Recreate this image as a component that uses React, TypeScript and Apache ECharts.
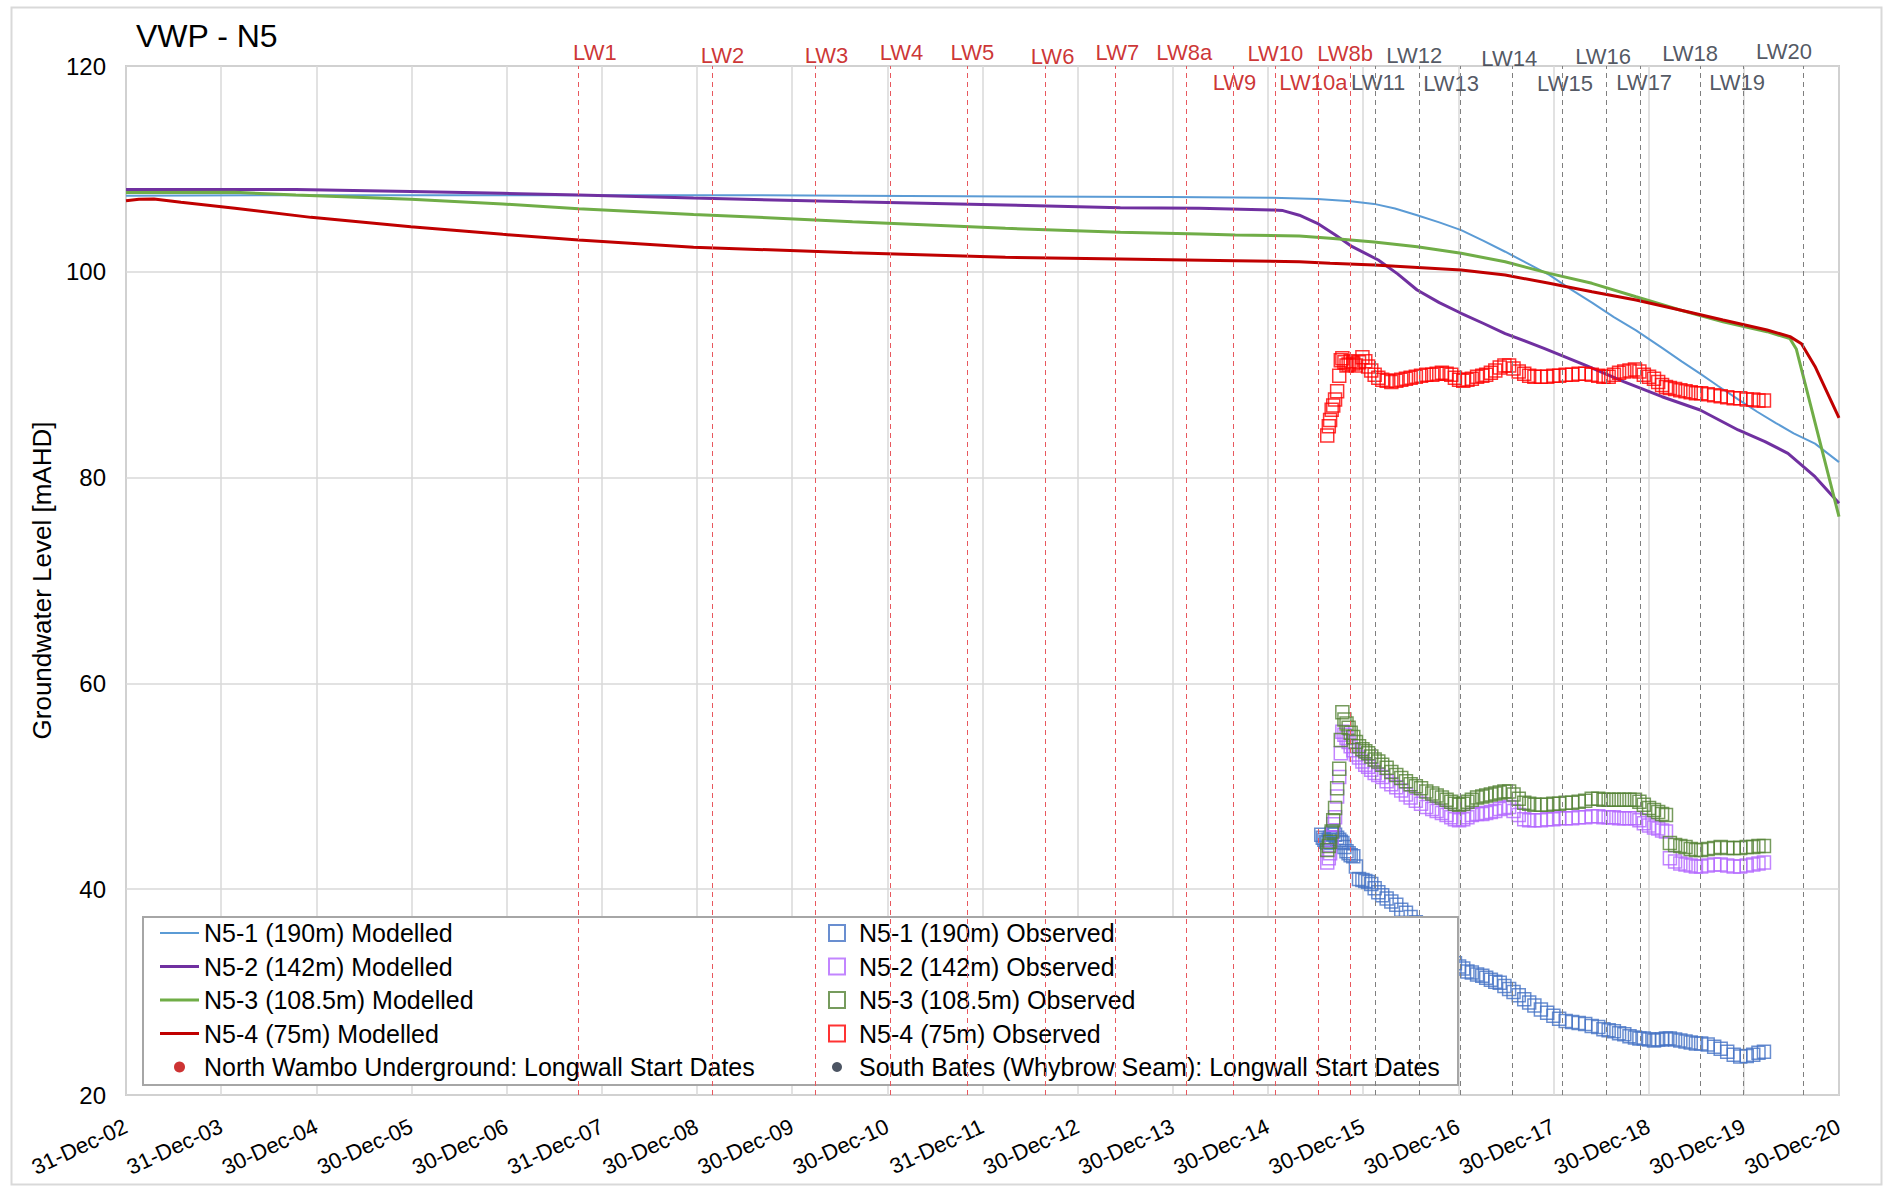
import React, { useEffect, useRef } from "react";
import * as echarts from "echarts";

// x values are days since 31-Dec-2002 (first axis tick)
const BASE_DATE = Date.UTC(2002, 11, 31);
const DAY_MS = 86400000;
const X_MIN = 0;
const X_STEP = 365.2222; // 18 equal divisions from 31-Dec-02 to 30-Dec-20
const X_MAX = 6573.9996;
const Y_MIN = 20;
const Y_MAX = 120;
const Y_STEP = 20;
const MONTHS = ["Jan", "Feb", "Mar", "Apr", "May", "Jun", "Jul", "Aug", "Sep", "Oct", "Nov", "Dec"];

const TITLE = "VWP - N5";
const Y_NAME = "Groundwater Level [mAHD]";

const seriesNames = {
  m1: "N5-1 (190m) Modelled",
  m2: "N5-2 (142m) Modelled",
  m3: "N5-3 (108.5m) Modelled",
  m4: "N5-4 (75m) Modelled",
  o1: "N5-1 (190m) Observed",
  o2: "N5-2 (142m) Observed",
  o3: "N5-3 (108.5m) Observed",
  o4: "N5-4 (75m) Observed",
  nw: "North Wambo Underground: Longwall Start Dates",
  sb: "South Bates (Whybrow Seam): Longwall Start Dates",
};

// Longwall start dates
const northWamboLW = ["LW1", "LW2", "LW3", "LW4", "LW5", "LW6", "LW7", "LW8a", "LW9", "LW10", "LW10a", "LW8b"];
const northWamboStart = ["2007-09-30", "2009-02-28", "2010-03-30", "2011-01-12", "2011-11-03", "2012-08-29", "2013-05-24", "2014-02-20", "2014-08-20", "2015-01-28", "2015-07-12", "2015-11-11"];
const northWamboLabelY = [121.3, 121.0, 121.0, 121.3, 121.3, 120.9, 121.3, 121.3, 118.4, 121.2, 118.4, 121.2];

const southBatesLW = ["LW11", "LW12", "LW13", "LW14", "LW15", "LW16", "LW17", "LW18", "LW19", "LW20"];
const southBatesStart = ["2016-02-15", "2016-08-02", "2017-01-06", "2017-07-25", "2018-02-01", "2018-07-20", "2018-11-28", "2019-07-16", "2019-12-28", "2020-08-14"];
const southBatesLabelY = [118.4, 121.0, 118.3, 120.7, 118.3, 120.9, 118.4, 121.2, 118.4, 121.4];

// horizontal nudges of the LW labels (px)
const northWamboLabelDx = [17, 10, 11, 11, 5, 7, 2, -2, 1, 0, -5, -5];
const southBatesLabelDx = [3, -5, -9, -3, 3, -3, 4, -10, -6, -19];

// Modelled heads [day, mAHD]
const modN5_1 = [[0,107.4],[700,107.45],[1500,107.45],[2200,107.45],[2800,107.4],[3400,107.32],[4000,107.28],[4400,107.2],[4572,107.07],[4700,106.85],[4790,106.6],[4870,106.15],[4955,105.5],[5040,104.8],[5124,104.05],[5210,103.0],[5293,101.95],[5380,100.8],[5462,99.7],[5545,98.3],[5626,97.0],[5710,95.6],[5795,94.3],[5895,92.6],[5970,91.3],[6041,90.1],[6110,88.9],[6187,87.6],[6260,86.4],[6332,85.3],[6400,84.3],[6482,83.3],[6574,81.5]];
const modN5_2 = [[0,108.0],[652,108.0],[1093,107.8],[1446,107.63],[1737,107.46],[2178,107.17],[2788,106.8],[3375,106.49],[3816,106.23],[4119,106.17],[4403,106.0],[4440,105.95],[4503,105.5],[4572,104.71],[4640,103.6],[4706,102.44],[4806,101.15],[4880,99.8],[4955,98.23],[5040,97.0],[5124,95.97],[5208,95.0],[5293,94.0],[5442,92.56],[5600,90.94],[5750,89.3],[5895,87.86],[6041,86.57],[6187,84.63],[6290,83.5],[6378,82.36],[6482,80.09],[6574,77.5]];
const modN5_3 = [[0,107.7],[418,107.72],[652,107.46],[1093,107.04],[1446,106.59],[1737,106.13],[2178,105.58],[2788,104.87],[3375,104.23],[3816,103.84],[4119,103.67],[4257,103.58],[4503,103.48],[4621,103.25],[4790,102.9],[4955,102.44],[5124,101.8],[5293,100.98],[5462,99.85],[5626,98.88],[5795,97.58],[5964,96.29],[6129,95.15],[6298,94.18],[6386,93.5],[6410,92.5],[6574,76.2]];
const modN5_4 = [[0,106.9],[50,107.05],[107,107.07],[211,106.75],[418,106.17],[710,105.29],[1093,104.38],[1446,103.64],[1737,103.09],[2178,102.38],[2788,101.86],[3375,101.41],[3816,101.24],[4257,101.08],[4503,100.98],[4621,100.82],[4790,100.66],[5124,100.17],[5293,99.69],[5462,98.88],[5626,98.07],[5795,97.26],[5964,96.29],[6129,95.31],[6298,94.34],[6386,93.7],[6430,93.0],[6482,90.8],[6574,85.8]];

// Observed heads [day, mAHD]
const obsN5_1 = [[4587,45.3],[4593,45.0],[4599,44.8],[4605,44.6],[4610,44.5],[4616,44.8],[4621,45.0],[4627,45.4],[4633,45.6],[4640,45.3],[4648,45.0],[4656,44.8],[4662,44.6],[4668,44.5],[4676,44.1],[4684,43.7],[4692,43.5],[4700,43.3],[4710,43.2],[4720,42.2],[4732,41.0],[4745,40.9],[4756,40.8],[4767,40.7],[4779,40.5],[4792,40.1],[4806,39.7],[4821,39.4],[4838,39.1],[4856,38.8],[4875,38.5],[4894,38.0],[4912,37.7],[4930,37.3],[4950,36.8],[4970,36.2],[4990,35.7],[5013,35.1],[5030,34.6],[5050,34.1],[5068,33.6],[5086,33.1],[5100,32.8],[5116,32.5],[5132,32.3],[5148,32.0],[5165,31.9],[5185,31.7],[5205,31.6],[5220,31.4],[5238,31.2],[5255,31.0],[5272,30.9],[5290,30.6],[5308,30.3],[5325,30.0],[5345,29.7],[5366,29.3],[5385,29.0],[5405,28.7],[5430,28.3],[5454,28.0],[5478,27.7],[5500,27.4],[5525,27.2],[5550,27.1],[5575,27.0],[5600,26.9],[5625,26.7],[5650,26.6],[5670,26.4],[5690,26.3],[5710,26.2],[5730,26.0],[5750,25.9],[5770,25.7],[5791,25.6],[5808,25.5],[5825,25.5],[5845,25.4],[5864,25.3],[5880,25.4],[5895,25.4],[5910,25.5],[5925,25.5],[5945,25.4],[5965,25.3],[5985,25.2],[6005,25.1],[6025,25.0],[6045,25.0],[6070,24.9],[6095,24.7],[6120,24.5],[6145,24.2],[6170,23.9],[6195,23.75],[6220,23.8],[6245,23.9],[6265,24.1],[6286,24.2]];
const obsN5_2 = [[4610,42.6],[4616,43.0],[4621,43.5],[4627,45.0],[4633,46.3],[4640,47.0],[4648,49.0],[4656,50.9],[4662,53.2],[4668,55.3],[4676,55.0],[4684,54.7],[4692,54.3],[4700,53.9],[4710,53.5],[4720,53.1],[4732,52.8],[4745,52.4],[4756,52.1],[4767,51.9],[4779,51.6],[4792,51.3],[4806,51.1],[4821,50.9],[4838,50.5],[4856,50.2],[4875,49.9],[4894,49.6],[4912,49.2],[4930,48.9],[4950,48.6],[4970,48.3],[4990,48.0],[5013,47.8],[5030,47.6],[5050,47.4],[5068,47.2],[5086,47.0],[5100,46.8],[5116,46.7],[5132,46.8],[5148,47.0],[5165,47.2],[5185,47.3],[5205,47.3],[5220,47.4],[5238,47.5],[5255,47.6],[5272,47.8],[5290,47.9],[5308,48.0],[5325,47.6],[5345,47.2],[5366,46.8],[5385,46.7],[5405,46.7],[5430,46.7],[5454,46.8],[5478,46.8],[5500,46.9],[5525,46.9],[5550,46.9],[5575,47.0],[5600,47.0],[5625,47.1],[5650,47.1],[5670,47.0],[5690,47.0],[5710,47.0],[5730,46.9],[5750,46.9],[5770,46.9],[5791,46.9],[5808,46.7],[5825,46.4],[5845,46.2],[5864,46.0],[5880,45.9],[5895,45.7],[5910,45.6],[5925,43.0],[5945,42.7],[5965,42.5],[5985,42.4],[6005,42.3],[6025,42.2],[6045,42.2],[6070,42.3],[6095,42.4],[6120,42.4],[6145,42.3],[6170,42.2],[6195,42.2],[6220,42.3],[6245,42.4],[6265,42.5],[6286,42.6]];
const obsN5_3 = [[4610,43.8],[4616,44.2],[4621,44.6],[4627,45.6],[4633,46.7],[4640,47.9],[4648,49.8],[4656,51.7],[4662,54.5],[4668,57.2],[4676,56.5],[4684,56.1],[4692,55.7],[4700,55.2],[4710,54.8],[4720,54.3],[4732,53.9],[4745,53.6],[4756,53.4],[4767,53.2],[4779,52.9],[4792,52.6],[4806,52.4],[4821,52.1],[4838,51.8],[4856,51.4],[4875,51.1],[4894,50.8],[4912,50.5],[4930,50.2],[4950,50.0],[4970,49.8],[4990,49.5],[5013,49.3],[5030,49.1],[5050,48.9],[5068,48.7],[5086,48.5],[5100,48.3],[5116,48.2],[5132,48.3],[5148,48.5],[5165,48.7],[5185,48.9],[5205,49.0],[5220,49.1],[5238,49.2],[5255,49.3],[5272,49.4],[5290,49.5],[5308,49.5],[5325,49.2],[5345,48.8],[5366,48.4],[5385,48.3],[5405,48.2],[5430,48.2],[5454,48.2],[5478,48.3],[5500,48.3],[5525,48.4],[5550,48.4],[5575,48.5],[5600,48.6],[5625,48.8],[5650,48.8],[5670,48.7],[5690,48.7],[5710,48.7],[5730,48.7],[5750,48.7],[5770,48.7],[5791,48.7],[5808,48.5],[5825,48.2],[5845,47.9],[5864,47.7],[5880,47.5],[5895,47.3],[5910,47.2],[5925,44.5],[5945,44.3],[5965,44.2],[5985,44.1],[6005,43.9],[6025,43.8],[6045,43.8],[6070,43.9],[6095,44.0],[6120,44.1],[6145,44.0],[6170,44.0],[6195,44.0],[6220,44.1],[6245,44.1],[6265,44.2],[6286,44.2]];
const obsN5_4 = [[4610,84.1],[4616,85.0],[4621,85.6],[4627,86.6],[4633,87.0],[4640,87.6],[4648,88.4],[4656,89.9],[4662,91.4],[4668,91.6],[4676,91.2],[4684,90.9],[4692,91.0],[4700,91.3],[4710,91.1],[4720,90.9],[4732,91.2],[4745,91.7],[4756,91.3],[4767,90.8],[4779,90.4],[4792,90.0],[4806,89.7],[4821,89.5],[4838,89.4],[4856,89.3],[4875,89.4],[4894,89.5],[4912,89.6],[4930,89.7],[4950,89.8],[4970,89.9],[4990,90.0],[5013,90.0],[5030,90.1],[5050,90.2],[5068,90.1],[5086,90.0],[5100,89.7],[5116,89.5],[5132,89.4],[5148,89.5],[5165,89.6],[5185,89.8],[5205,89.9],[5220,90.0],[5238,90.2],[5255,90.4],[5272,90.7],[5290,90.9],[5308,90.9],[5325,90.6],[5345,90.3],[5366,90.1],[5385,89.9],[5405,89.8],[5430,89.8],[5454,89.8],[5478,89.9],[5500,89.9],[5525,90.0],[5550,90.0],[5575,90.1],[5600,90.1],[5625,90.0],[5650,89.9],[5670,89.8],[5690,89.8],[5710,90.0],[5730,90.2],[5750,90.3],[5770,90.4],[5791,90.5],[5808,90.3],[5825,90.0],[5845,89.8],[5864,89.6],[5880,89.3],[5895,89.0],[5910,88.8],[5925,88.7],[5945,88.6],[5965,88.5],[5985,88.4],[6005,88.3],[6025,88.2],[6045,88.2],[6070,88.1],[6095,88.0],[6120,87.9],[6145,87.8],[6170,87.7],[6195,87.7],[6220,87.6],[6245,87.6],[6265,87.5],[6286,87.5]];

const FONT = "'Liberation Sans', Arial, sans-serif";
const C = {
  m1: "#5b9bd5",
  m2: "#7030a0",
  m3: "#70ad47",
  m4: "#c00000",
  o1: "#4472c4",
  o2: "#b366ff",
  o3: "#548235",
  o4: "#ff0000",
  nwLine: "#e8585e",
  nwText: "#c00000",
  sbLine: "#7f7f7f",
  sbText: "#262d3a",
  sbDot: "#1f2a3c",
};

const LINE_ICON_THICK = "path://M0,0H40V3H0Z";
const LINE_ICON_THIN = "path://M0,0H40V2H0Z";
const SQUARE_ICON = "path://M0,0H10V10H0Z";

function dayOf(iso: string): number {
  const [y, m, d] = iso.split("-").map(Number);
  return Math.round((Date.UTC(y, m - 1, d) - BASE_DATE) / DAY_MS);
}

function fmtDay(v: number): string {
  const dt = new Date(BASE_DATE + Math.floor(v + 0.01) * DAY_MS);
  const yy = String(dt.getUTCFullYear() % 100).padStart(2, "0");
  return `${dt.getUTCDate()}-${MONTHS[dt.getUTCMonth()]}-${yy}`;
}

function buildOption(): any {
  const lineSeries = (name: string, data: number[][], color: string, width: number) => ({
    name,
    type: "line",
    data,
    symbol: "none",
    showSymbol: false,
    lineStyle: { color, width },
    itemStyle: { color },
    z: 2,
  });
  const obsSeries = (name: string, data: number[][], color: string) => ({
    name,
    type: "scatter",
    data,
    symbol: "rect",
    symbolSize: 13,
    itemStyle: { color: "rgba(0,0,0,0)", borderColor: color, borderWidth: 1.5 },
    z: 2,
  });
  const lwSeries = (
    name: string,
    names: string[],
    dates: string[],
    labelY: number[],
    labelDx: number[],
    lineColor: string,
    textColor: string
  ) => ({
    name,
    type: "scatter",
    clip: false,
    symbolSize: 0,
    itemStyle: { color: textColor },
    data: names.map((n, i) => ({
      value: [dayOf(dates[i]), labelY[i], n],
      label: { offset: [labelDx[i], 0] },
    })),
    label: {
      show: true,
      position: "inside",
      formatter: (p: any) => p.value[2],
      color: textColor,
      fontSize: 22,
      fontFamily: FONT,
    },
    markLine: {
      silent: true,
      symbol: ["none", "none"],
      label: { show: false },
      lineStyle: { color: lineColor, type: [5, 4], width: 1 },
      data: dates.map((d) => ({ xAxis: dayOf(d) })),
    },
    z: 2,
  });

  const legendText = { fontSize: 25, lineHeight: 26, color: "#000", fontFamily: FONT };
  const sqIcon = (name: string, color: string) => ({
    name,
    icon: SQUARE_ICON,
    itemStyle: { color: "rgba(0,0,0,0)", borderColor: color, borderWidth: 2 },
  });
  const lnIcon = (name: string, color: string, icon: string) => ({
    name,
    icon,
    itemStyle: { color, borderWidth: 0 },
  });

  return {
    animation: false,
    backgroundColor: "#ffffff",
    textStyle: { fontFamily: FONT },
    title: {
      text: TITLE,
      left: 136,
      top: 20,
      padding: 0,
      textStyle: { fontSize: 32, fontWeight: "normal", color: "#000", fontFamily: FONT },
    },
    grid: {
      left: 126,
      right: 46,
      top: 66,
      bottom: 91,
      show: true,
      borderColor: "#a6a6a6",
      borderWidth: 1.5,
      backgroundColor: "rgba(0,0,0,0)",
    },
    xAxis: {
      type: "value",
      min: X_MIN,
      max: X_MAX,
      interval: X_STEP,
      axisLine: { show: false },
      axisTick: { show: false },
      splitLine: { show: true, lineStyle: { color: "#d9d9d9", width: 1.5 } },
      axisLabel: {
        rotate: 25,
        margin: 30,
        fontSize: 22,
        color: "#000",
        fontFamily: FONT,
        formatter: (v: number) => fmtDay(v),
      },
    },
    yAxis: {
      type: "value",
      min: Y_MIN,
      max: Y_MAX,
      interval: Y_STEP,
      name: Y_NAME,
      nameLocation: "middle",
      nameGap: 71,
      nameTextStyle: { fontSize: 26, color: "#000", fontFamily: FONT },
      axisLine: { show: false },
      axisTick: { show: false },
      splitLine: { show: true, lineStyle: { color: "#d9d9d9", width: 1.5 } },
      axisLabel: { fontSize: 24, color: "#000", margin: 20, fontFamily: FONT },
    },
    legend: [
      {
        orient: "vertical",
        left: 160,
        top: 920,
        padding: 0,
        itemWidth: 39,
        itemHeight: 11,
        itemGap: 7.5,
        selectedMode: false,
        textStyle: legendText,
        data: [
          lnIcon(seriesNames.m1, C.m1, LINE_ICON_THIN),
          lnIcon(seriesNames.m2, C.m2, LINE_ICON_THICK),
          lnIcon(seriesNames.m3, C.m3, LINE_ICON_THICK),
          lnIcon(seriesNames.m4, C.m4, LINE_ICON_THICK),
          { name: seriesNames.nw, icon: "circle", itemStyle: { color: C.nwText } },
        ],
      },
      {
        orient: "vertical",
        left: 828,
        top: 920,
        padding: 0,
        itemWidth: 34,
        itemHeight: 16,
        itemGap: 7.5,
        selectedMode: false,
        textStyle: legendText,
        data: [
          sqIcon(seriesNames.o1, C.o1),
          sqIcon(seriesNames.o2, C.o2),
          sqIcon(seriesNames.o3, C.o3),
          sqIcon(seriesNames.o4, C.o4),
        ],
      },
      {
        orient: "vertical",
        left: 832,
        top: 1054,
        padding: 0,
        itemWidth: 34,
        itemHeight: 10,
        selectedMode: false,
        textStyle: legendText,
        data: [{ name: seriesNames.sb, icon: "circle", itemStyle: { color: C.sbDot } }],
      },
    ],
    graphic: {
      elements: [
        {
          type: "rect",
          left: 9,
          top: 5,
          shape: { x: 0, y: 0, width: 1870, height: 1177 },
          style: { fill: "none", stroke: "#d9d9d9", lineWidth: 2 },
          z: 0,
          silent: true,
        },
        {
          type: "rect",
          left: 142,
          top: 916,
          shape: { x: 0, y: 0, width: 1315, height: 168 },
          style: { fill: "#ffffff", stroke: "#a6a6a6", lineWidth: 2 },
          z: 3,
          silent: true,
        },
      ],
    },
    series: [
      lineSeries(seriesNames.m1, modN5_1, C.m1, 2),
      lineSeries(seriesNames.m2, modN5_2, C.m2, 3),
      lineSeries(seriesNames.m3, modN5_3, C.m3, 3),
      lineSeries(seriesNames.m4, modN5_4, C.m4, 3),
      obsSeries(seriesNames.o1, obsN5_1, C.o1),
      obsSeries(seriesNames.o2, obsN5_2, C.o2),
      obsSeries(seriesNames.o3, obsN5_3, C.o3),
      obsSeries(seriesNames.o4, obsN5_4, C.o4),
      lwSeries(seriesNames.nw, northWamboLW, northWamboStart, northWamboLabelY, northWamboLabelDx, C.nwLine, C.nwText),
      lwSeries(seriesNames.sb, southBatesLW, southBatesStart, southBatesLabelY, southBatesLabelDx, C.sbLine, C.sbText),
    ],
  };
}

export default function App() {
  const ref = useRef<HTMLDivElement>(null);
  useEffect(() => {
    if (!ref.current) return;
    const chart = echarts.init(ref.current, null, { renderer: "svg" });
    chart.setOption(buildOption());
    return () => chart.dispose();
  }, []);
  return (
    <div
      ref={ref}
      style={{ position: "absolute", left: 0, top: 0, width: 1885, height: 1186, background: "#fff" }}
    />
  );
}
